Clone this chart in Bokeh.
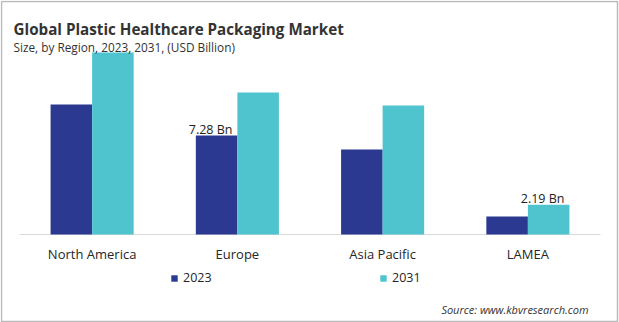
from bokeh.plotting import figure
from bokeh.models import (ColumnDataSource, FactorRange, Range1d, Legend, LegendItem,
                          Label, BoxAnnotation)
from bokeh.core.properties import value
from bokeh.transform import dodge
from bokeh.embed import file_html
from bokeh.resources import INLINE

regions = ["North America", "Europe", "Asia Pacific", "LAMEA"]
values_2023 = [9.56, 7.28, 6.25, 1.32]
values_2031 = [13.38, 10.44, 9.49, 2.19]
series_names = ["2023", "2031"]
label_2023 = ["", "7.28 Bn", "", ""]
label_2031 = ["", "", "", "2.19 Bn"]

title_text = "Global Plastic Healthcare Packaging Market"
subtitle_text = "Size, by Region, 2023, 2031, (USD Billion)"
source_text = "Source: www.kbvresearch.com"

DARK = "#2B3990"
CYAN = "#4FC4CF"
FONT = "Open Sans"

W, H = 619, 322
BASE = 234          # pixel row of the baseline (from top)
PX_PER_UNIT = 13.6  # pixels per USD billion
LEFT, RIGHT = 19, 600

src = ColumnDataSource(dict(region=regions, v23=values_2023, v31=values_2031,
                            l23=label_2023, l31=label_2031))

cat_w = (RIGHT - LEFT) / len(regions)
pad = LEFT / cat_w
xr = FactorRange(*regions, range_padding=pad, range_padding_units="absolute")
yr = Range1d(-(H - BASE) / PX_PER_UNIT, BASE / PX_PER_UNIT)

p = figure(width=W, height=H, x_range=xr, y_range=yr,
           output_backend="svg", toolbar_location=None,
           min_border=0, x_axis_type=None, y_axis_type=None)
p.outline_line_color = None
p.xgrid.visible = False
p.ygrid.visible = False
p.background_fill_color = "white"
p.border_fill_color = "white"

# baseline
p.segment(x0=[0], y0=[0], x1=[len(regions)], y1=[0], line_color="#d9d9d9", line_width=1)

bw = 0.286
r1 = p.vbar(x=dodge("region", -0.143, range=p.x_range), top="v23", width=bw,
            source=src, color=DARK, line_color=None)
r2 = p.vbar(x=dodge("region", 0.143, range=p.x_range), top="v31", width=bw,
            source=src, color=CYAN, line_color=None)

p.text(x=dodge("region", -0.143, range=p.x_range), y="v23", text="l23", source=src,
       text_align="center", text_baseline="alphabetic", y_offset=-6, x_offset=-6,
       text_font_size="12.5px", text_color="#222222", text_font=value(FONT))
p.text(x=dodge("region", 0.143, range=p.x_range), y="v31", text="l31", source=src,
       text_align="center", text_baseline="alphabetic", y_offset=-6, x_offset=-6,
       text_font_size="12.5px", text_color="#222222", text_font=value(FONT))

# category labels
p.text(x="region", y=0, text="region", source=src, text_align="center",
       text_baseline="middle", y_offset=19, text_font_size="13px",
       text_color="#262626", text_font=value(FONT))

for rend, name, xloc in [(r1, series_names[0], 170), (r2, series_names[1], 379)]:
    lg = Legend(items=[LegendItem(label=name, renderers=[rend])],
                location=(xloc, H - 286), orientation="horizontal",
                padding=0, margin=0, border_line_color=None, background_fill_alpha=0,
                glyph_width=8, glyph_height=8, label_standoff=5, label_height=16,
                label_text_font=FONT, label_text_font_size="12.5px",
                label_text_color="#262626")
    p.add_layout(lg, "center")

p.add_layout(Label(x=13, y=H - 28, x_units="screen", y_units="screen", text=title_text,
                   text_font=FONT, text_font_style="bold", text_font_size="15.2px",
                   text_color="#333333", text_baseline="alphabetic"))
p.add_layout(Label(x=13, y=H - 46, x_units="screen", y_units="screen", text=subtitle_text,
                   text_font=FONT, text_font_size="11.8px",
                   text_color="#333333", text_baseline="alphabetic"))
p.add_layout(Label(x=588, y=H - 309, x_units="screen", y_units="screen", text=source_text,
                   text_font=FONT, text_font_style="italic", text_font_size="11px",
                   text_color="#333333", text_baseline="alphabetic", text_align="right"))

p.add_layout(BoxAnnotation(left=1, right=617, top=1, bottom=321,
                           left_units="canvas", right_units="canvas",
                           top_units="canvas", bottom_units="canvas",
                           fill_alpha=0, line_color="#1a1a1a", line_width=1.5))

open("out.html", "w").write(file_html(p, INLINE))
